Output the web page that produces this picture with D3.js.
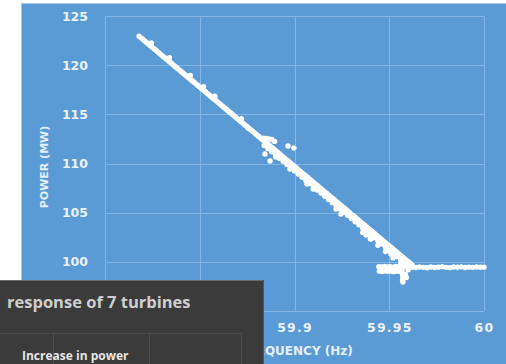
<!DOCTYPE html>
<html>
<head>
<meta charset="utf-8">
<script src="https://cdn.jsdelivr.net/npm/d3@7/dist/d3.min.js"></script>
<style>
  html, body { margin: 0; padding: 0; background: #ffffff; }
  svg { display: block; }
</style>
</head>
<body>
<svg id="chart" width="506" height="364"></svg>
<script>
// Axis ticks (gridlines at every tick, labels where they are not covered by the table panel)
const xTicks = [59.8, 59.85, 59.9, 59.95, 60];
const xLabelTicks = [59.9, 59.95, 60];
const xLabelText = ["59.9", "59.95", "60"];
const yTicks = [95, 100, 105, 110, 115, 120, 125];
const yLabelTicks = [100, 105, 110, 115, 120, 125];

// Main droop band: frequency (Hz)
const bandFreq = [
  59.818, 59.819, 59.820, 59.821, 59.822, 59.823, 59.824, 59.825, 59.826, 59.827,
  59.828, 59.829, 59.830, 59.831, 59.832, 59.833, 59.834, 59.835, 59.836, 59.837,
  59.838, 59.839, 59.840, 59.841, 59.842, 59.843, 59.844, 59.845, 59.846, 59.847,
  59.848, 59.849, 59.850, 59.851, 59.852, 59.853, 59.854, 59.855, 59.856, 59.857,
  59.858, 59.859, 59.860, 59.861, 59.862, 59.863, 59.864, 59.865, 59.866, 59.867,
  59.868, 59.869, 59.870, 59.871, 59.872, 59.873, 59.874, 59.875, 59.876, 59.877,
  59.878, 59.879, 59.880, 59.881, 59.882, 59.883, 59.884, 59.885, 59.886, 59.887,
  59.888, 59.889, 59.890, 59.891, 59.892, 59.893, 59.894, 59.895, 59.896, 59.897,
  59.898, 59.899, 59.900, 59.901, 59.902, 59.903, 59.904, 59.905, 59.906, 59.907,
  59.908, 59.909, 59.910, 59.911, 59.912, 59.913, 59.914, 59.915, 59.916, 59.917,
  59.918, 59.919, 59.920, 59.921, 59.922, 59.923, 59.924, 59.925, 59.926, 59.927,
  59.928, 59.929, 59.930, 59.931, 59.932, 59.933, 59.934, 59.935, 59.936, 59.937,
  59.938, 59.939, 59.940, 59.941, 59.942, 59.943, 59.944, 59.945, 59.946, 59.947,
  59.948, 59.949, 59.950, 59.951, 59.952, 59.953, 59.954, 59.955, 59.956, 59.957,
  59.958, 59.959, 59.960, 59.961, 59.962
];
// Main droop band: power (MW)
const bandPower = [
  122.94, 122.78, 122.62, 122.46, 122.29, 122.13, 121.97, 121.81, 121.65, 121.49,
  121.33, 121.16, 121.00, 120.84, 120.68, 120.52, 120.36, 120.20, 120.03, 119.87,
  119.71, 119.55, 119.39, 119.23, 119.06, 118.90, 118.74, 118.58, 118.42, 118.26,
  118.10, 117.93, 117.77, 117.61, 117.45, 117.29, 117.13, 116.96, 116.80, 116.64,
  116.48, 116.32, 116.16, 116.00, 115.83, 115.67, 115.51, 115.35, 115.19, 115.03,
  114.87, 114.70, 114.54, 114.38, 114.22, 114.06, 113.90, 113.73, 113.57, 113.41,
  113.25, 113.09, 112.93, 112.77, 112.60, 112.44, 112.28, 112.12, 111.96, 111.80,
  111.64, 111.47, 111.31, 111.15, 110.99, 110.83, 110.67, 110.50, 110.34, 110.18,
  110.02, 109.86, 109.70, 109.54, 109.37, 109.21, 109.05, 108.89, 108.73, 108.57,
  108.41, 108.24, 108.08, 107.92, 107.76, 107.60, 107.44, 107.27, 107.11, 106.95,
  106.79, 106.63, 106.47, 106.31, 106.14, 105.98, 105.82, 105.66, 105.50, 105.34,
  105.18, 105.01, 104.85, 104.69, 104.53, 104.37, 104.21, 104.04, 103.88, 103.72,
  103.56, 103.40, 103.24, 103.08, 102.91, 102.75, 102.59, 102.43, 102.27, 102.11,
  101.95, 101.78, 101.62, 101.46, 101.30, 101.14, 100.98, 100.81, 100.65, 100.49,
  100.33, 100.17, 100.01, 99.85, 99.69
];

// Lower edges of the band where it widens
const edgeFreq = [
  59.884, 59.886, 59.888, 59.890, 59.892, 59.894, 59.896, 59.898, 59.900, 59.902,
  59.904, 59.906, 59.908, 59.910, 59.912, 59.914, 59.916, 59.918, 59.920, 59.922,
  59.924, 59.926, 59.928, 59.930, 59.932, 59.934, 59.936, 59.938, 59.940, 59.942,
  59.944, 59.946, 59.948, 59.950, 59.952, 59.954, 59.956, 59.958, 59.960,
  59.936, 59.940, 59.944, 59.948, 59.952, 59.956, 59.960
];
const edgePower = [
  111.83, 111.51, 111.19, 110.86, 110.54, 110.22, 109.89, 109.57, 109.25, 108.92,
  108.60, 108.28, 107.96, 107.63, 107.31, 106.99, 106.66, 106.34, 106.02, 105.69,
  105.37, 105.05, 104.73, 104.40, 104.08, 103.76, 103.43, 103.11, 102.79, 102.46,
  102.14, 101.82, 101.50, 101.17, 100.85, 100.53, 100.20, 99.88, 99.56,
  102.98, 102.34, 101.69, 101.05, 100.40, 99.75, 99.20
];

// Small bumps on the upper side of the band and the step near 59.885 Hz
const bumpFreq = [59.8245, 59.834, 59.845, 59.852, 59.858, 59.872, 59.8755, 59.8835, 59.885, 59.8865, 59.888, 59.8895];
const bumpPower = [122.25, 120.75, 118.95, 117.80, 116.85, 114.55, 113.60, 112.58, 112.55, 112.50, 112.44, 112.25];

// Scattered samples off the band
const strayFreq = [
  59.8966, 59.8997, 59.8844, 59.8871, 59.8902, 59.8976, 59.9066, 59.9098,
  59.9219, 59.9245, 59.9377, 59.9404, 59.9483, 59.9509
];
const strayPower = [
  111.78, 111.58, 110.97, 110.25, 110.66, 109.44, 107.91, 107.41,
  105.37, 104.86, 102.73, 102.32, 101.41, 100.80
];

// Cluster near the deadband edge
const clusterFreq = [
  59.9445, 59.9460, 59.9475, 59.9490, 59.9505, 59.9520, 59.9535, 59.9550, 59.9565, 59.9580,
  59.9448, 59.9463, 59.9478, 59.9493, 59.9508, 59.9523, 59.9538, 59.9553, 59.9568,
  59.9570, 59.9570, 59.9570, 59.9572, 59.9570, 59.9572, 59.9570, 59.9585, 59.9590
];
const clusterPower = [
  99.50, 99.48, 99.52, 99.47, 99.50, 99.46, 99.52, 99.49, 99.55, 99.50,
  99.05, 99.02, 99.08, 99.04, 99.06, 99.00, 99.05, 99.03, 99.02,
  100.35, 100.00, 98.70, 98.40, 98.15, 97.95, 99.80, 98.75, 98.40
];

// Flat output inside the deadband
const flatFreq = [
  59.962, 59.964, 59.966, 59.968, 59.970, 59.972, 59.974, 59.976, 59.978, 59.980,
  59.982, 59.984, 59.986, 59.988, 59.990, 59.992, 59.994, 59.996, 59.998, 60.000
];
const flatPower = [
  99.45, 99.42, 99.48, 99.44, 99.40, 99.47, 99.43, 99.46, 99.50, 99.44,
  99.41, 99.47, 99.45, 99.49, 99.43, 99.46, 99.44, 99.48, 99.45, 99.46
];

const W = 506, H = 364;
const svg = d3.select("#chart");

// Page background and chart panel
svg.append("rect").attr("width", W).attr("height", H).attr("fill", "#ffffff");
svg.append("rect")
  .attr("x", 21.5).attr("y", 3.5).attr("width", W - 21).attr("height", H - 3)
  .attr("fill", "#5b9bd5").attr("stroke", "#a3c8ea").attr("stroke-width", 1);

const x = d3.scaleLinear().domain([59.8, 60]).range([105, 484]);
const y = d3.scaleLinear().domain([95, 125]).range([311, 16]);

// Gridlines
const grid = svg.append("g").attr("stroke", "#82b6e3").attr("stroke-width", 1);
grid.selectAll("line.v").data(xTicks).join("line").attr("class", "v")
  .attr("x1", d => Math.round(x(d)) + 0.5).attr("x2", d => Math.round(x(d)) + 0.5)
  .attr("y1", y(95)).attr("y2", y(125));
grid.selectAll("line.h").data(yTicks).join("line").attr("class", "h")
  .attr("y1", d => Math.round(y(d)) + 0.5).attr("y2", d => Math.round(y(d)) + 0.5)
  .attr("x1", x(59.8)).attr("x2", x(60));

const tickFont = "'DejaVu Sans', sans-serif";

// Y axis
const yAxis = svg.append("g").attr("transform", "translate(88,0)")
  .call(d3.axisLeft(y).tickValues(yLabelTicks).tickSize(0).tickPadding(0).tickFormat(d3.format("d")));
yAxis.select(".domain").remove();
yAxis.selectAll("text")
  .attr("fill", "#eaf2fa").attr("font-family", tickFont)
  .attr("font-weight", "bold").attr("font-size", 12.5);

// X axis
const xAxis = svg.append("g").attr("transform", "translate(0,323)")
  .call(d3.axisBottom(x).tickValues(xLabelTicks).tickSize(0).tickPadding(0)
    .tickFormat((d, i) => xLabelText[i]));
xAxis.select(".domain").remove();
xAxis.selectAll("text")
  .attr("fill", "#eaf2fa").attr("font-family", tickFont)
  .attr("font-weight", "bold").attr("font-size", 12.5)
  .attr("letter-spacing", 1.2);

// Axis titles
svg.append("text")
  .attr("x", 296).attr("y", 355).attr("text-anchor", "middle")
  .attr("fill", "#e4eef8").attr("font-family", tickFont)
  .attr("font-weight", "bold").attr("font-size", 12)
  .text("FREQUENCY (Hz)");
svg.append("text")
  .attr("transform", "translate(48,167) rotate(-90)")
  .attr("text-anchor", "middle")
  .attr("fill", "#e4eef8").attr("font-family", tickFont)
  .attr("font-weight", "bold").attr("font-size", 11)
  .text("POWER (MW)");

// Measured samples
function pairs(fs, ps) { return fs.map((f, i) => [f, ps[i]]); }
const samples = [].concat(
  pairs(bandFreq, bandPower),
  pairs(edgeFreq, edgePower),
  pairs(bumpFreq, bumpPower),
  pairs(strayFreq, strayPower),
  pairs(clusterFreq, clusterPower),
  pairs(flatFreq, flatPower)
);
svg.append("g").selectAll("circle").data(samples).join("circle")
  .attr("cx", d => x(d[0])).attr("cy", d => y(d[1]))
  .attr("r", 2.7).attr("fill", "#ffffff");

// Summary table panel in the lower left
const panel = svg.append("g");
panel.append("rect").attr("x", 0).attr("y", 280).attr("width", 264).attr("height", 84)
  .attr("fill", "#3b3b3b");
panel.append("line").attr("x1", 0).attr("x2", 264).attr("y1", 280.5).attr("y2", 280.5)
  .attr("stroke", "#6a6a6a");
panel.append("line").attr("x1", 263.5).attr("x2", 263.5).attr("y1", 280).attr("y2", 364)
  .attr("stroke", "#555555");
panel.append("line").attr("x1", 0).attr("x2", 242).attr("y1", 333.5).attr("y2", 333.5)
  .attr("stroke", "#4c4c4c");
[53.5, 149.5, 241.5].forEach(v => {
  panel.append("line").attr("x1", v).attr("x2", v).attr("y1", 333).attr("y2", 364)
    .attr("stroke", "#4c4c4c");
});
panel.append("text").attr("x", 7).attr("y", 308)
  .attr("fill", "#cfcfcf").attr("font-family", "'Open Sans', sans-serif")
  .attr("font-weight", 700).attr("font-size", 16.5)
  .text("response of 7 turbines");
panel.append("text").attr("x", 22).attr("y", 360)
  .attr("fill", "#e6e6e6").attr("font-family", "'Open Sans', sans-serif")
  .attr("font-weight", 700).attr("font-size", 12)
  .text("Increase in power");
</script>
</body>
</html>
